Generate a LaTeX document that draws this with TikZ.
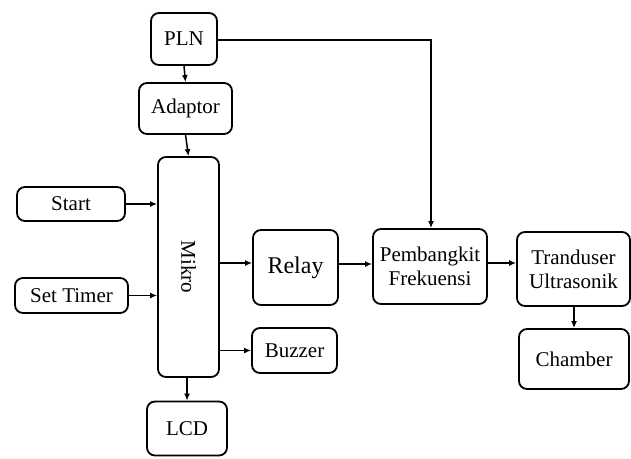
\documentclass[tikz,border=0pt]{standalone}
\usepackage{fontspec}
\setmainfont{Liberation Serif}
\newfontfamily\tnr{Liberation Serif}
\usetikzlibrary{arrows.meta}
\begin{document}
\begin{tikzpicture}[x=1pt,y=-1pt,
  blk/.style={draw=black, line width=1.8pt, rounded corners=8pt, align=center, inner sep=0pt,
    font=\tnr\fontsize{21}{24}\selectfont},
  conn/.style={line width=1.5pt, -{Latex[length=7pt,width=6pt]}}]
\useasboundingbox (0,0) rectangle (631,458);
\node[blk, minimum width=66pt, minimum height=52pt] (pln) at (184,39) {PLN};
\node[blk, minimum width=93pt, minimum height=51pt] (adp) at (185.5,108.5) {Adaptor};
\node[blk, minimum width=61pt, minimum height=220pt] (mik) at (188.5,267) {};
\node[font=\tnr\fontsize{21}{24}\selectfont, rotate=-90] (mikt) at (mik.center) {Mikro};
\node[blk, minimum width=108pt, minimum height=34pt] (start) at (71,204) {Start};
\node[blk, minimum width=113pt, minimum height=35pt] (timer) at (71.5,295.5) {Set Timer};
\node[blk, minimum width=85pt, minimum height=75pt, font=\tnr\fontsize{24}{27}\selectfont] (relay) at (295.5,267.5) {Relay};
\node[blk, minimum width=85pt, minimum height=45pt] (buz) at (294.5,350.5) {Buzzer};
\node[blk, minimum width=80pt, minimum height=54pt] (lcd) at (187,428.5) {LCD};
\node[blk, minimum width=114pt, minimum height=75pt] (pemb) at (430,266.5) {Pembangkit\\Frekuensi};
\node[blk, minimum width=113pt, minimum height=74pt] (tran) at (573.5,269) {Tranduser\\Ultrasonik};
\node[blk, minimum width=110pt, minimum height=60pt] (cham) at (574,359) {Chamber};

\draw[conn] (pln.south) -- (adp.north);
\draw[conn] (adp.south) -- (mik.north);
\draw[conn] (start.east) -- (start.east -| mik.west);
\draw[conn] (timer.east) -- (timer.east -| mik.west);
\draw[conn] ([yshift=4.5pt]relay.west -| mik.east) -- ([yshift=4.5pt]relay.west);
\draw[conn] (buz.west -| mik.east) -- (buz.west);
\draw[conn] (mik.south -| lcd.north) -- (lcd.north);
\draw[conn] ([yshift=3.5pt]relay.east) -- ([yshift=3.5pt]relay.east -| pemb.west);
\draw[conn] ([yshift=3.5pt]pemb.east) -- ([yshift=3.5pt]pemb.east -| tran.west);
\draw[conn] (tran.south -| cham.north) -- (cham.north);
\draw[conn] ([yshift=-1pt]pln.east) -| ([xshift=1pt]pemb.north);
\end{tikzpicture}
\end{document}
